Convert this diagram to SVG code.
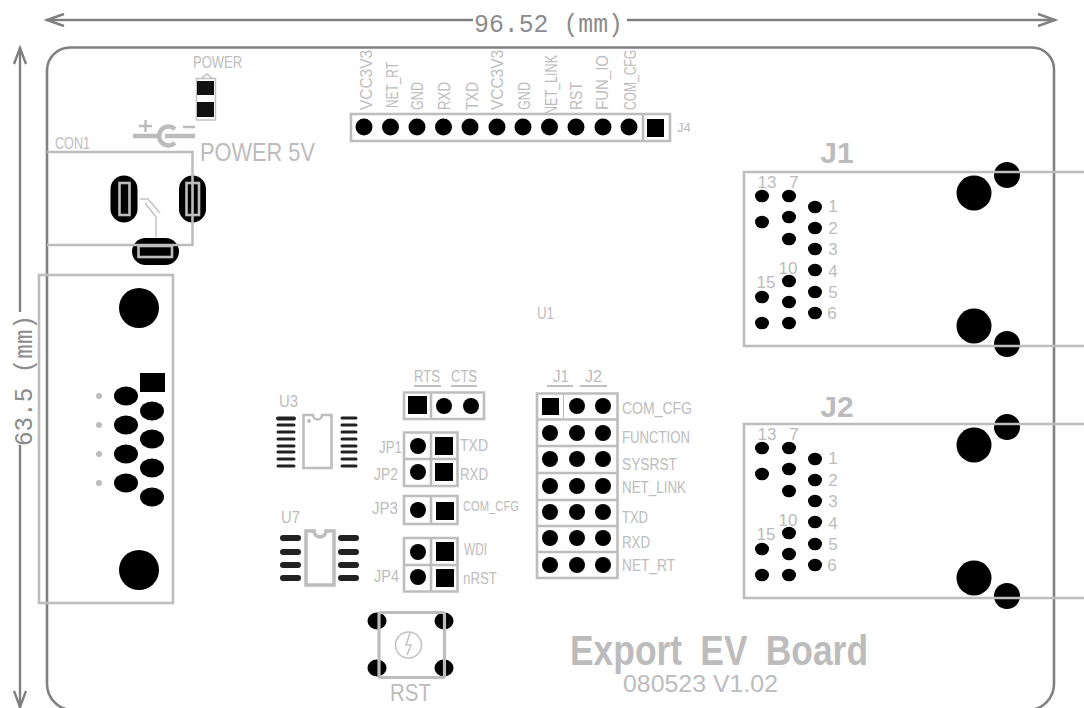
<svg xmlns="http://www.w3.org/2000/svg" xmlns:xlink="http://www.w3.org/1999/xlink" width="1084" height="708" viewBox="0 0 1084 708">
<style>
text{font-family:"Liberation Sans",Arial,sans-serif;fill:#bcbcbc}
.s{font-size:16px}.m{font-size:17px}.l{font-size:24px}
.mono{font-family:"Liberation Mono","DejaVu Sans Mono",monospace;fill:#8c8c8c;font-size:26px}
.o{fill:none;stroke:#bdbdbd;stroke-width:2.6}
.t{fill:none;stroke:#c2c2c2;stroke-width:1.5}
.d{fill:none;stroke:#808080;stroke-width:2.4}
.b{fill:#000}
.dk{fill:#111}
.p{stroke:#222;stroke-linecap:round;fill:none}
</style>
<defs>
<g id="rjpads" class="b">
<ellipse cx="762" cy="196" rx="7" ry="6.3"/><ellipse cx="789" cy="196" rx="7" ry="6.3"/><ellipse cx="762" cy="222" rx="7" ry="6.3"/><ellipse cx="789" cy="217" rx="7" ry="6.3"/><ellipse cx="789" cy="239" rx="7" ry="6.3"/>
<ellipse cx="815" cy="207" rx="7" ry="6.3"/><ellipse cx="815" cy="228" rx="7" ry="6.3"/><ellipse cx="815" cy="249" rx="7" ry="6.3"/><ellipse cx="815" cy="270" rx="7" ry="6.3"/><ellipse cx="815" cy="292" rx="7" ry="6.3"/><ellipse cx="815" cy="313" rx="7" ry="6.3"/>
<ellipse cx="789" cy="281" rx="7" ry="6.3"/><ellipse cx="789" cy="302" rx="7" ry="6.3"/><ellipse cx="789" cy="323" rx="7" ry="6.3"/><ellipse cx="762" cy="297" rx="7" ry="6.3"/><ellipse cx="762" cy="323" rx="7" ry="6.3"/>
<circle cx="974" cy="193" r="17.5"/><circle cx="974" cy="326" r="17.5"/><circle cx="1007" cy="175" r="13"/><circle cx="1007" cy="344" r="13"/>
</g>
<path id="rjbox" class="o" d="M1084 172H744V346H1084"/>
<circle id="c" r="8" class="b"/>
<ellipse id="db" rx="12" ry="9.4" class="b"/>
</defs>

<g id="board"><path d="M47 684V70A23 23 0 0 1 70 47.500H1032A22 22 0 0 1 1054 70V684A26 26 0 0 1 1028 710H73A26 26 0 0 1 47 684Z" fill="none" stroke="#808080" stroke-width="2.6"/></g>

<g id="dimensions">
<path class="d" d="M46 20H473M627 20H1056M20 47V312M20 445V708"/>
<path class="d" d="M64 14L47 20L64 26M1038 14L1055 20L1038 26M14 64L20 48L26 64M14 691L20 707L26 691"/>
<text class="mono" x="474" y="32" textLength="149" lengthAdjust="spacingAndGlyphs">96.52 (mm)</text>
<text class="mono" transform="translate(32 446) rotate(-90)" textLength="131" lengthAdjust="spacingAndGlyphs">63.5 (mm)</text>
</g>

<g id="POWER-led">
<text class="s" x="193" y="68" textLength="49" lengthAdjust="spacingAndGlyphs">POWER</text>
<path class="t" d="M202 78L207 74L212 78M196.500 78.500H215.500V120H196.500Z"/>
<rect class="dk" x="197" y="81" width="17" height="14"/><rect class="dk" x="197" y="102" width="17" height="15"/>
</g>

<g id="POWER-5V">
<path d="M139 126H152M145.500 120V132M183 127H195" fill="none" stroke="#bcbcbc" stroke-width="2.500"/>
<path d="M133 136H158M165 136H195" fill="none" stroke="#bcbcbc" stroke-width="4.500"/>
<path d="M175 129A9.500 9.500 0 1 0 175 143" fill="none" stroke="#bcbcbc" stroke-width="4.500"/>
<text x="200" y="161" style="font-size:25px" textLength="115" lengthAdjust="spacingAndGlyphs">POWER 5V</text>
</g>

<g id="CON1">
<rect class="b" x="110.500" y="175.500" width="27" height="47" rx="13.500"/>
<rect class="b" x="179" y="175.500" width="27" height="47" rx="13.500"/>
<rect class="b" x="132" y="238" width="47" height="27" rx="13.500"/>
<path class="o" d="M47 152H192.500V245H47"/>
<rect class="o" x="119.500" y="183" width="10" height="32"/><rect class="o" x="186.500" y="183" width="12.500" height="32"/><rect class="o" x="138.500" y="246" width="33.500" height="11"/>
<path class="t" d="M140 199H148L160 213M145 203L156 217V237" stroke-width="2"/>
<text x="55" y="149" class="s" textLength="35" lengthAdjust="spacingAndGlyphs">CON1</text>
</g>

<g id="DSUB">
<rect class="o" x="39" y="275" width="134" height="328"/>
<circle class="b" cx="139" cy="308" r="20"/><circle class="b" cx="139" cy="570" r="20"/>
<rect class="b" x="140" y="373" width="25" height="19"/>
<use xlink:href="#db" href="#db" x="126" y="396"/><use xlink:href="#db" href="#db" x="126" y="425"/><use xlink:href="#db" href="#db" x="126" y="454"/><use xlink:href="#db" href="#db" x="126" y="483"/>
<use xlink:href="#db" href="#db" x="152" y="411"/><use xlink:href="#db" href="#db" x="152" y="439"/><use xlink:href="#db" href="#db" x="152" y="468"/><use xlink:href="#db" href="#db" x="152" y="497"/>
<g fill="#bdbdbd"><circle cx="99" cy="396" r="3"/><circle cx="99" cy="425" r="3"/><circle cx="99" cy="454" r="3"/><circle cx="99" cy="483" r="3"/></g>
</g>

<g id="J4">
<g id="J4-labels">
<text class="s" transform="translate(372 110) rotate(-90)" textLength="60" lengthAdjust="spacingAndGlyphs">VCC3V3</text>
<text class="s" transform="translate(398 108) rotate(-90)" textLength="46" lengthAdjust="spacingAndGlyphs">NET_RT</text>
<text class="s" transform="translate(423 110) rotate(-90)" textLength="28" lengthAdjust="spacingAndGlyphs">GND</text>
<text class="s" transform="translate(450 110) rotate(-90)" textLength="28" lengthAdjust="spacingAndGlyphs">RXD</text>
<text class="s" transform="translate(478 110) rotate(-90)" textLength="28" lengthAdjust="spacingAndGlyphs">TXD</text>
<text class="s" transform="translate(503 110) rotate(-90)" textLength="60" lengthAdjust="spacingAndGlyphs">VCC3V3</text>
<text class="s" transform="translate(530 110) rotate(-90)" textLength="28" lengthAdjust="spacingAndGlyphs">GND</text>
<text class="s" transform="translate(557 115) rotate(-90)" textLength="60" lengthAdjust="spacingAndGlyphs">NET_LINK</text>
<text class="s" transform="translate(582 110) rotate(-90)" textLength="28" lengthAdjust="spacingAndGlyphs">RST</text>
<text class="s" transform="translate(608 110) rotate(-90)" textLength="55" lengthAdjust="spacingAndGlyphs">FUN_IO</text>
<text class="s" transform="translate(636 110) rotate(-90)" textLength="60" lengthAdjust="spacingAndGlyphs">COM_CFG</text>
</g>
<path class="o" d="M351 114H670V141H351ZM643 114V141"/>
<g class="b"><circle cx="364" cy="127" r="8.500"/><circle cx="390.500" cy="127" r="8.500"/><circle cx="417" cy="127" r="8.500"/><circle cx="443.500" cy="127" r="8.500"/><circle cx="470" cy="127" r="8.500"/><circle cx="497" cy="127" r="8.500"/><circle cx="523" cy="127" r="8.500"/><circle cx="549.500" cy="127" r="8.500"/><circle cx="576" cy="127" r="8.500"/><circle cx="603" cy="127" r="8.500"/><circle cx="629" cy="127" r="8.500"/><rect x="647" y="119" width="17" height="18"/></g>
<text x="677" y="132" style="font-size:13px">J4</text>
</g>

<text id="U1" x="537" y="319" class="s" textLength="17" lengthAdjust="spacingAndGlyphs">U1</text>

<g id="RJ-J1">
<use xlink:href="#rjpads" href="#rjpads"/><use xlink:href="#rjbox" href="#rjbox"/>
<text x="837" y="163" text-anchor="middle" style="font-size:30px;font-weight:bold">J1</text>
<g class="m" text-anchor="middle"><text x="767" y="188">13</text><text x="794" y="188">7</text><text x="833" y="212">1</text><text x="833" y="234">2</text><text x="833" y="255">3</text><text x="833" y="277">4</text><text x="833" y="298">5</text><text x="832" y="319">6</text><text x="788" y="274">10</text><text x="766" y="288">15</text></g>
</g>
<g id="RJ-J2" >
<g transform="translate(0 252)"><use xlink:href="#rjpads" href="#rjpads"/><use xlink:href="#rjbox" href="#rjbox"/></g>
<text x="837" y="417" text-anchor="middle" style="font-size:30px;font-weight:bold">J2</text>
<g class="m" text-anchor="middle"><text x="767" y="440">13</text><text x="794" y="440">7</text><text x="833" y="464">1</text><text x="833" y="486">2</text><text x="833" y="507">3</text><text x="833" y="529">4</text><text x="833" y="550">5</text><text x="832" y="571">6</text><text x="788" y="526">10</text><text x="766" y="540">15</text></g>
</g>

<g id="U3">
<text class="m" x="279" y="407" textLength="19" lengthAdjust="spacingAndGlyphs">U3</text>
<path class="o" d="M303.500 415H313A4.500 4.500 0 0 0 322 415H331.500V468H303.500Z"/>
<circle cx="309" cy="421" r="2" fill="#bdbdbd"/>
<path class="p" stroke-width="3" d="M278 425H294M278 432H294M278 439H294M278 446H294M278 452H294M278 459H294M278 466H294M342 418H356M342 425H356M342 432H356M342 439H356M342 446H356M342 452H356M342 459H356M342 466H356"/>
<path class="p" stroke-width="4" d="M278 418.500H294"/>
</g>
<g id="U7">
<text class="m" x="281" y="523" textLength="19" lengthAdjust="spacingAndGlyphs">U7</text>
<path fill="none" stroke="#bdbdbd" stroke-width="3.500" d="M306 531H314A6 6 0 0 0 326 531H334V585H306Z"/>
<path class="p" stroke-width="6" stroke="#111" d="M283 538H298M283 552H298M283 565H298M283 578H298M341 538H356M341 552H356M341 565H356M341 578H356"/>
</g>

<g id="RTS-CTS">
<text class="s" x="414" y="382" textLength="26" lengthAdjust="spacingAndGlyphs">RTS</text><text class="s" x="451" y="382" textLength="26" lengthAdjust="spacingAndGlyphs">CTS</text>
<path d="M414 386H441M451 386H477" stroke="#aaa" stroke-width="1.500" fill="none"/>
<path class="o" d="M404 392.500H484V419H404ZM431 392.500V419"/>
<rect class="b" x="408" y="396" width="19" height="18"/>
<use xlink:href="#c" href="#c" x="444" y="406"/><use xlink:href="#c" href="#c" x="471" y="406"/>
</g>
<g id="JP1-JP2">
<path class="o" d="M404 432.500H457.500V486H404ZM404 459H457.500M431 432.500V486"/>
<use xlink:href="#c" href="#c" x="418" y="446"/><use xlink:href="#c" href="#c" x="418" y="472"/>
<rect class="b" x="435" y="437" width="18" height="18"/><rect class="b" x="435" y="463" width="18" height="18"/>
<text class="s" x="379" y="453" textLength="23" lengthAdjust="spacingAndGlyphs">JP1</text><text class="s" x="374" y="480" textLength="24" lengthAdjust="spacingAndGlyphs">JP2</text>
<text class="s" x="460" y="451" textLength="28" lengthAdjust="spacingAndGlyphs">TXD</text><text class="s" x="460" y="480" textLength="28" lengthAdjust="spacingAndGlyphs">RXD</text>
</g>
<g id="JP3">
<path class="o" d="M404 496H457.500V524H404ZM431 496V524"/>
<use xlink:href="#c" href="#c" x="418" y="510"/><rect class="b" x="436" y="502" width="18" height="18"/>
<text class="s" x="372" y="514" textLength="26" lengthAdjust="spacingAndGlyphs">JP3</text>
<text x="463" y="511" style="font-size:14px" textLength="56" lengthAdjust="spacingAndGlyphs">COM_CFG</text>
</g>
<g id="JP4">
<path class="o" d="M404 538H457.500V591.500H404ZM404 565H457.500M431 538V591.500"/>
<use xlink:href="#c" href="#c" x="418" y="552"/><use xlink:href="#c" href="#c" x="418" y="577"/>
<rect class="b" x="436" y="542" width="18" height="19"/><rect class="b" x="436" y="569" width="18" height="18"/>
<text class="s" x="374" y="582" textLength="25" lengthAdjust="spacingAndGlyphs">JP4</text>
<text class="s" x="464" y="555" textLength="23" lengthAdjust="spacingAndGlyphs">WDI</text><text class="s" x="463" y="584" textLength="34" lengthAdjust="spacingAndGlyphs">nRST</text>
</g>

<g id="J1-J2-jumpers">
<text class="s" x="553" y="382" textLength="16" lengthAdjust="spacingAndGlyphs">J1</text><text class="s" x="585" y="382" textLength="17" lengthAdjust="spacingAndGlyphs">J2</text>
<path d="M547 386H573M580 386H607" stroke="#aaa" stroke-width="1.500" fill="none"/>
<path class="o" d="M537 393.500H617.500V578H537ZM537 419.500H617.500M537 446H617.500M537 473H617.500M537 500H617.500M537 526H617.500M537 552H617.500"/>
<path d="M563.500 393V419" stroke="#bdbdbd" fill="none"/>
<rect class="b" x="542" y="398" width="17" height="17"/>
<g id="jumper-pads">
<use xlink:href="#c" href="#c" x="577" y="406"/><use xlink:href="#c" href="#c" x="603" y="406"/>
<use xlink:href="#c" href="#c" x="550" y="433"/><use xlink:href="#c" href="#c" x="577" y="433"/><use xlink:href="#c" href="#c" x="603" y="433"/>
<use xlink:href="#c" href="#c" x="550" y="459"/><use xlink:href="#c" href="#c" x="577" y="459"/><use xlink:href="#c" href="#c" x="603" y="459"/>
<use xlink:href="#c" href="#c" x="550" y="486"/><use xlink:href="#c" href="#c" x="577" y="486"/><use xlink:href="#c" href="#c" x="603" y="486"/>
<use xlink:href="#c" href="#c" x="550" y="512"/><use xlink:href="#c" href="#c" x="577" y="512"/><use xlink:href="#c" href="#c" x="603" y="512"/>
<use xlink:href="#c" href="#c" x="550" y="538"/><use xlink:href="#c" href="#c" x="577" y="538"/><use xlink:href="#c" href="#c" x="603" y="538"/>
<use xlink:href="#c" href="#c" x="550" y="565"/><use xlink:href="#c" href="#c" x="577" y="565"/><use xlink:href="#c" href="#c" x="603" y="565"/>
</g>
<text class="s" x="622" y="414" textLength="70" lengthAdjust="spacingAndGlyphs">COM_CFG</text>
<text class="s" x="622" y="443" textLength="68" lengthAdjust="spacingAndGlyphs">FUNCTION</text>
<text class="s" x="622" y="470" textLength="55" lengthAdjust="spacingAndGlyphs">SYSRST</text>
<text class="s" x="622" y="493" textLength="64" lengthAdjust="spacingAndGlyphs">NET_LINK</text>
<text class="s" x="622" y="523" textLength="26" lengthAdjust="spacingAndGlyphs">TXD</text>
<text class="s" x="622" y="548" textLength="28" lengthAdjust="spacingAndGlyphs">RXD</text>
<text class="s" x="622" y="571" textLength="53" lengthAdjust="spacingAndGlyphs">NET_RT</text>
</g>

<g id="RST">
<g class="b"><ellipse cx="377" cy="621" rx="9.500" ry="8.500"/><ellipse cx="444" cy="621" rx="9.500" ry="8.500"/><ellipse cx="377" cy="668" rx="9.500" ry="8.500"/><ellipse cx="444" cy="668" rx="9.500" ry="8.500"/></g>
<rect x="379" y="612.500" width="65.500" height="65" rx="2" fill="none" stroke="#bdbdbd" stroke-width="3.200"/>
<circle class="t" cx="408.500" cy="645" r="13"/>
<path class="t" d="M410 633L406 645H411L407 655"/>
<text class="l" x="390" y="701" textLength="41" lengthAdjust="spacingAndGlyphs">RST</text>
</g>

<g id="title">
<text x="570" y="665" style="font-size:42px;font-weight:bold;word-spacing:10px" textLength="298" lengthAdjust="spacingAndGlyphs">Export EV Board</text>
<text class="l" x="623" y="692" textLength="155" lengthAdjust="spacingAndGlyphs">080523 V1.02</text>
</g>
</svg>
